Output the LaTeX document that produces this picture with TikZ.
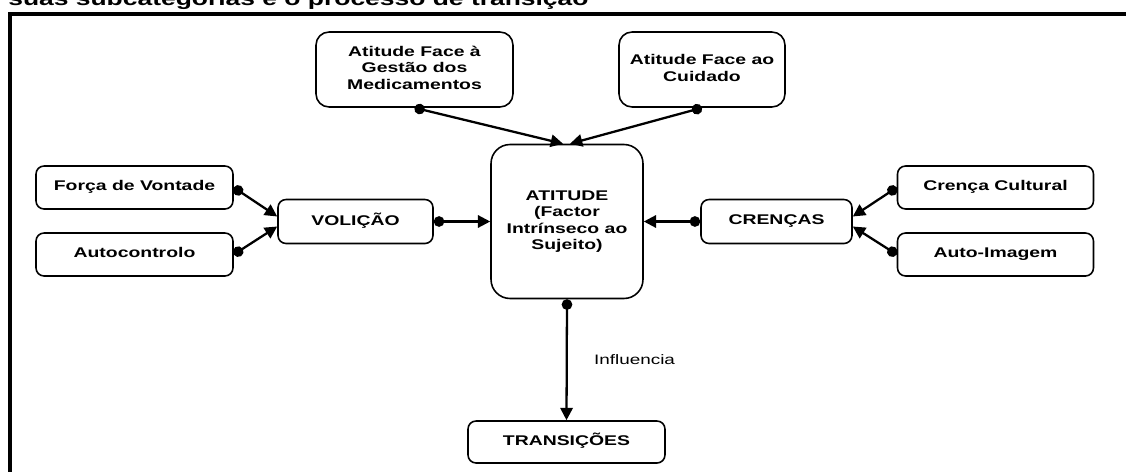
\documentclass[tikz,border=0pt]{standalone}
\usepackage{fontspec}
\setmainfont{Liberation Sans}
\usepackage{graphicx}
\usepackage{tikz}
\usetikzlibrary{arrows.meta,calc}

\newcommand{\largo}[2][0pt]{\raisebox{#1}{\scalebox{1.38}[1]{\begin{tabular}{@{}c@{}}#2\end{tabular}}}}

\begin{document}
\begin{tikzpicture}[
  x=0.02cm,
  y=0.02cm,
  caixa/.style={
    draw,
    line width=0.9pt,
    rounded corners=#1,
    inner sep=0pt,
    font=\bfseries\fontsize{8}{9.4}\selectfont
    },
  caixa/.default=0.16cm,
  liga/.style={
    line width=1.3pt,
    {Circle[length=6pt,width=6pt]}-{Triangle[length=7pt,width=7pt]}
    }
]

\useasboundingbox (0,0) rectangle (1126,471);

\node[anchor=base west, inner sep=0pt, font=\bfseries\fontsize{10.9}{12}\selectfont]
  (titulo) at (8,465)
  {\scalebox{1.38}[1]{suas subcategorias e o processo de transição}};
\draw[line width=0.08cm] (10,-10) -- (10,457) -- (1140,457);

\node[caixa=0.26cm, minimum width=3.94cm, minimum height=1.50cm]
  (medica) at (414.5,401.5)
  {\largo[-0.1cm]{Atitude Face à\\Gestão dos\\Medicamentos}};
\node[caixa=0.26cm, minimum width=3.32cm, minimum height=1.50cm]
  (cuidado) at (702,401.5)
  {\largo[-0.13cm]{Atitude Face ao\\Cuidado}};
\node[caixa=0.38cm, minimum width=3.04cm, minimum height=3.08cm]
  (atitude) at (567,249.5)
  {\largo[-0.14cm]{ATITUDE\\(Factor\\Intrínseco ao\\Sujeito)}};
\node[caixa, minimum width=3.94cm, minimum height=0.86cm]
  (forca) at (134.5,283.5) {\largo{Força de Vontade}};
\node[caixa, minimum width=3.94cm, minimum height=0.86cm]
  (autoc) at (134.5,216.5) {\largo{Autocontrolo}};
\node[caixa, minimum width=3.10cm, minimum height=0.88cm]
  (volicao) at (355.5,249.5) {\largo{VOLIÇÃO}};
\node[caixa, minimum width=3.02cm, minimum height=0.88cm]
  (crencas) at (776.5,249.5) {\largo{CRENÇAS}};
\node[caixa, minimum width=3.92cm, minimum height=0.86cm]
  (cultural) at (995.5,283.5) {\largo{Crença Cultural}};
\node[caixa, minimum width=3.92cm, minimum height=0.86cm]
  (autoimg) at (995.5,216.5) {\largo{Auto-Imagem}};
\node[caixa, minimum width=3.94cm, minimum height=0.84cm]
  (transicoes) at (566.5,29) {\largo{TRANSIÇÕES}};
\node[font=\fontsize{7.8}{9}\selectfont]
  (influencia) at (634.5,111) {\scalebox{1.38}[1]{Influencia}};

\draw[liga] (medica.south) -- ([xshift=-0.08cm]atitude.north);
\draw[liga] (cuidado.south) -- ([xshift=0.06cm]atitude.north);
\foreach \origem/\desvio in {forca/0.1, autoc/-0.1}
  \draw[liga] (\origem.east) -- ([yshift=\desvio cm]volicao.west);
\foreach \origem/\desvio in {cultural/0.1, autoimg/-0.1}
  \draw[liga] (\origem.west) -- ([yshift=\desvio cm]crencas.east);
\draw[liga] (volicao.east) -- (atitude.west);
\draw[liga] (crencas.west) -- (atitude.east);
\draw[liga] (atitude.south) -- (transicoes.north);

\end{tikzpicture}
\end{document}
